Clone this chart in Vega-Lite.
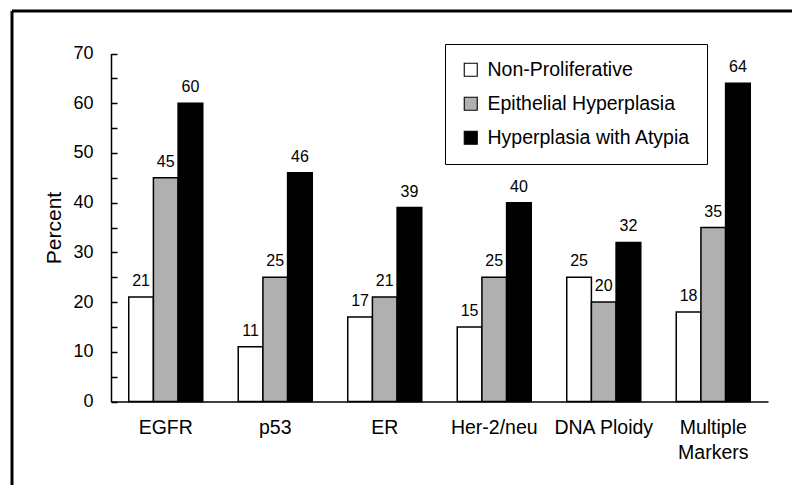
{
  "$schema": "https://vega.github.io/schema/vega-lite/v6.json",
  "autosize": "none",
  "padding": {"left": 12, "top": 11, "right": 0, "bottom": 0},
  "width": 780,
  "height": 474,
  "background": "white",
  "config": {
    "view": {"stroke": "black", "strokeWidth": 3, "strokeDash": [780, 1254, 474, 0]},
    "font": "Liberation Sans"
  },
  "data": {
    "values": [
      {"marker": "EGFR", "group": "Non-Proliferative", "percent": 21},
      {"marker": "EGFR", "group": "Epithelial Hyperplasia", "percent": 45},
      {"marker": "EGFR", "group": "Hyperplasia with Atypia", "percent": 60},
      {"marker": "p53", "group": "Non-Proliferative", "percent": 11},
      {"marker": "p53", "group": "Epithelial Hyperplasia", "percent": 25},
      {"marker": "p53", "group": "Hyperplasia with Atypia", "percent": 46},
      {"marker": "ER", "group": "Non-Proliferative", "percent": 17},
      {"marker": "ER", "group": "Epithelial Hyperplasia", "percent": 21},
      {"marker": "ER", "group": "Hyperplasia with Atypia", "percent": 39},
      {"marker": "Her-2/neu", "group": "Non-Proliferative", "percent": 15},
      {"marker": "Her-2/neu", "group": "Epithelial Hyperplasia", "percent": 25},
      {"marker": "Her-2/neu", "group": "Hyperplasia with Atypia", "percent": 40},
      {"marker": "DNA Ploidy", "group": "Non-Proliferative", "percent": 25},
      {"marker": "DNA Ploidy", "group": "Epithelial Hyperplasia", "percent": 20},
      {"marker": "DNA Ploidy", "group": "Hyperplasia with Atypia", "percent": 32},
      {"marker": "Multiple Markers", "group": "Non-Proliferative", "percent": 18},
      {"marker": "Multiple Markers", "group": "Epithelial Hyperplasia", "percent": 35},
      {"marker": "Multiple Markers", "group": "Hyperplasia with Atypia", "percent": 64}
    ]
  },
  "encoding": {
    "x": {
      "field": "marker",
      "type": "nominal",
      "sort": ["EGFR", "p53", "ER", "Her-2/neu", "DNA Ploidy", "Multiple Markers"],
      "scale": {"range": [99, 756], "paddingInner": 0.324, "paddingOuter": 0.162},
      "axis": {
        "title": null,
        "offset": -83.5,
        "ticks": false,
        "domainColor": "black",
        "domainWidth": 1.5,
        "labelAngle": 0,
        "labelFontSize": 19.5,
        "labelColor": "black",
        "labelPadding": 17,
        "labelLineHeight": 25,
        "labelExpr": "datum.value == 'Multiple Markers' ? ['Multiple', 'Markers'] : datum.label"
      }
    },
    "xOffset": {
      "field": "group",
      "type": "nominal",
      "sort": ["Non-Proliferative", "Epithelial Hyperplasia", "Hyperplasia with Atypia"],
      "scale": {"paddingInner": 0, "paddingOuter": 0}
    },
    "y": {
      "field": "percent",
      "type": "quantitative",
      "scale": {"domain": [0, 70], "range": [390.5, 42.5], "nice": false, "zero": true},
      "axis": {
        "title": "Percent",
        "titleFontSize": 21,
        "titleFontWeight": "normal",
        "titleColor": "black",
        "titlePadding": 8,
        "offset": -99,
        "values": [0, 5, 10, 15, 20, 25, 30, 35, 40, 45, 50, 55, 60, 65, 70],
        "labelExpr": "datum.value % 10 == 0 ? datum.label : ''",
        "grid": false,
        "domainColor": "black",
        "domainWidth": 1.5,
        "tickColor": "black",
        "tickWidth": 1.5,
        "tickSize": -6,
        "labelFontSize": 18,
        "labelColor": "black",
        "labelPadding": 24
      }
    }
  },
  "layer": [
    {
      "mark": {"type": "bar", "stroke": "black", "strokeWidth": 1.5},
      "encoding": {
        "color": {
          "field": "group",
          "type": "nominal",
          "scale": {
            "domain": ["Non-Proliferative", "Epithelial Hyperplasia", "Hyperplasia with Atypia"],
            "range": ["#ffffff", "#b0b0b0", "#000000"]
          },
          "legend": {
            "title": null,
            "orient": "none",
            "legendX": 433,
            "legendY": 33,
            "strokeColor": "black",
            "padding": 16,
            "rowPadding": 13,
            "symbolType": "square",
            "symbolSize": 169,
            "symbolStrokeColor": "black",
            "symbolStrokeWidth": 1.1,
            "labelFontSize": 19.5,
            "labelColor": "black",
            "labelOffset": 7,
            "labelLimit": 400
          }
        }
      }
    },
    {
      "mark": {"type": "text", "baseline": "alphabetic", "dy": -11, "fontSize": 16, "color": "black"},
      "encoding": {
        "text": {"field": "percent", "type": "quantitative"}
      }
    }
  ]
}
